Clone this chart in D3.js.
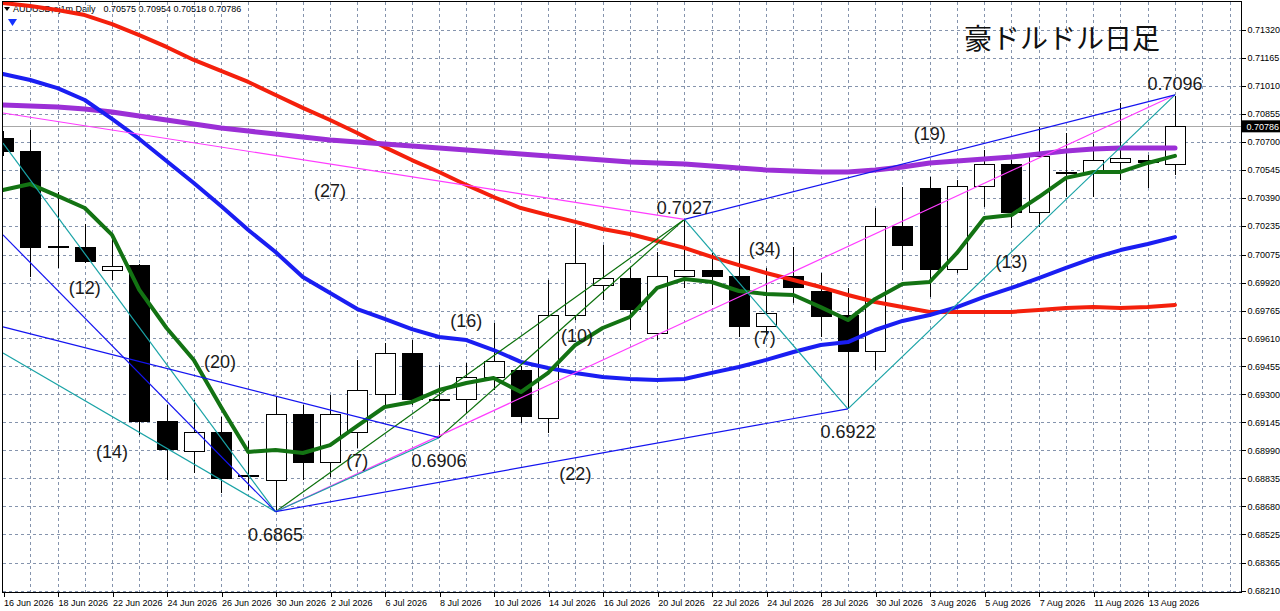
<!DOCTYPE html>
<html><head><meta charset="utf-8">
<script src="https://cdn.jsdelivr.net/npm/d3@7"></script>
<style>body{margin:0;background:#fff;} svg{display:block;}</style>
</head><body>
<svg id="c" width="1280" height="611"></svg>
<script>
// ---------------- DATA ----------------
const dates = ["16 Jun","17 Jun","18 Jun","19 Jun","22 Jun","23 Jun","24 Jun","25 Jun","26 Jun","29 Jun",
  "30 Jun","1 Jul","2 Jul","3 Jul","6 Jul","7 Jul","8 Jul","9 Jul","10 Jul","13 Jul",
  "14 Jul","15 Jul","16 Jul","17 Jul","20 Jul","21 Jul","22 Jul","23 Jul","24 Jul","27 Jul",
  "28 Jul","29 Jul","30 Jul","31 Jul","3 Aug","4 Aug","5 Aug","6 Aug","7 Aug","10 Aug",
  "11 Aug","12 Aug","13 Aug","14 Aug"];
const open  = [0.70716,0.70649,0.70120,0.70117,0.69986,0.70017,0.69152,0.68986,0.69086,0.68853,
  0.68820,0.69186,0.68920,0.69086,0.69297,0.69529,0.69274,0.69274,0.69391,0.69435,
  0.69169,0.69735,0.69906,0.69940,0.69635,0.69951,0.69984,0.69956,0.69674,0.69956,
  0.69873,0.69735,0.69535,0.70233,0.70439,0.69995,0.70455,0.70577,0.70311,0.70527,
  0.70527,0.70588,0.70594,0.70575];
const high  = [0.70760,0.70766,0.70422,0.70245,0.70172,0.70025,0.69241,0.69269,0.69175,0.69042,
  0.69286,0.69240,0.69297,0.69491,0.69585,0.69601,0.69463,0.69474,0.69696,0.69460,
  0.69934,0.70222,0.70128,0.70001,0.70089,0.70270,0.70084,0.70222,0.70001,0.70117,
  0.69973,0.69890,0.70333,0.70450,0.70505,0.70488,0.70655,0.70599,0.70782,0.70749,
  0.70710,0.70915,0.70627,0.70954];
const low   = [0.70620,0.69951,0.70001,0.70028,0.69934,0.69075,0.68825,0.68864,0.68753,0.68770,
  0.68650,0.68825,0.68842,0.69000,0.69240,0.69240,0.69060,0.69197,0.69324,0.69141,
  0.69086,0.69712,0.69823,0.69657,0.69601,0.69890,0.69796,0.69618,0.69629,0.69807,
  0.69618,0.69220,0.69435,0.69990,0.69840,0.69973,0.70339,0.70222,0.70228,0.70394,
  0.70394,0.70488,0.70444,0.70518];
const close = [0.70644,0.70117,0.70115,0.70034,0.70008,0.69152,0.68992,0.69091,0.68836,0.68850,
  0.69186,0.68925,0.69186,0.69319,0.69524,0.69269,0.69272,0.69396,0.69485,0.69175,
  0.69740,0.70023,0.69940,0.69773,0.69951,0.69984,0.69956,0.69674,0.69746,0.69890,
  0.69729,0.69535,0.70233,0.70128,0.69995,0.70455,0.70577,0.70311,0.70616,0.70530,
  0.70594,0.70605,0.70583,0.70786];

const maGreen = [0.70433,0.70466,0.70400,0.70333,0.70184,0.69879,0.69668,0.69491,0.69230,0.68981,
  0.68992,0.68975,0.69019,0.69125,0.69230,0.69258,0.69324,0.69363,0.69391,0.69313,
  0.69419,0.69574,0.69668,0.69729,0.69890,0.69940,0.69923,0.69873,0.69856,0.69851,
  0.69784,0.69712,0.69829,0.69912,0.69923,0.70084,0.70278,0.70294,0.70394,0.70500,
  0.70533,0.70533,0.70583,0.70622];
const maBlue = [0.71076,0.71043,0.70998,0.70932,0.70827,0.70716,0.70594,0.70472,0.70344,0.70211,
  0.70089,0.69951,0.69862,0.69773,0.69718,0.69662,0.69618,0.69601,0.69546,0.69480,
  0.69446,0.69419,0.69396,0.69385,0.69380,0.69385,0.69419,0.69452,0.69491,0.69535,
  0.69574,0.69590,0.69657,0.69707,0.69740,0.69784,0.69840,0.69890,0.69945,0.70001,
  0.70056,0.70100,0.70134,0.70172];
const maRed = [0.71470,0.71453,0.71431,0.71403,0.71353,0.71292,0.71226,0.71154,0.71093,0.71032,
  0.70960,0.70888,0.70821,0.70749,0.70671,0.70599,0.70533,0.70461,0.70394,0.70333,
  0.70294,0.70256,0.70217,0.70189,0.70150,0.70112,0.70062,0.70017,0.69973,0.69934,
  0.69895,0.69851,0.69812,0.69784,0.69757,0.69757,0.69757,0.69757,0.69768,0.69779,
  0.69784,0.69779,0.69784,0.69796];
const maPurple = [0.70904,0.70899,0.70893,0.70882,0.70865,0.70843,0.70821,0.70799,0.70777,0.70760,
  0.70743,0.70727,0.70710,0.70699,0.70688,0.70677,0.70666,0.70655,0.70644,0.70633,
  0.70622,0.70610,0.70599,0.70588,0.70583,0.70577,0.70566,0.70555,0.70544,0.70538,
  0.70533,0.70533,0.70544,0.70561,0.70583,0.70594,0.70605,0.70616,0.70633,0.70649,
  0.70660,0.70666,0.70666,0.70666];

const yTickLabels = ["0.71320","0.71165","0.71010","0.70855","0.70700","0.70545","0.70390","0.70235",
  "0.70075","0.69920","0.69765","0.69610","0.69455","0.69300","0.69145","0.68990","0.68835",
  "0.68680","0.68525","0.68365","0.68210"];

// trend lines: [barFrom, priceFrom, barTo, priceTo]
const blueLines = [[0,0.70184,10,0.6865],[0,0.69674,16,0.6906],[10,0.6865,31,0.6922],[25,0.7027,43,0.7096]];
const tealLines = [[0,0.70693,10,0.6865],[0,0.69529,10,0.6865],[10,0.6865,16,0.6906],[25,0.7027,31,0.6922],[31,0.6922,43,0.7096]];
const magentaLines = [[0,0.70860,25,0.7027],[10,0.6865,43,0.7096]];
const greenLines = [[10,0.6865,25,0.7027],[16,0.6906,25,0.7027]];

// price annotations: [bar, price, text]
const peakLabels = [[43,0.7096,"0.7096"],[25,0.7027,"0.7027"]];
const troughLabels = [[31,0.6922,"0.6922"],[16,0.6906,"0.6906"],[10,0.6865,"0.6865"]];
// bar-count annotations: [text, bar, price]
const countLabels = [["(12)",3,0.69895],["(14)",4,0.68981],["(20)",7.96,0.69485],["(27)",12,0.70433],
  ["(16)",17,0.69707],["(7)",13,0.68936],["(10)",21.06,0.69629],["(34)",27.95,0.70106],
  ["(7)",27.95,0.69618],["(22)",21,0.68864],["(19)",34,0.70749],["(13)",37,0.70034]];

const title = "豪ドルドル日足";
const header = "AUDUSD,oj1m,Daily";
const headerValues = "0.70575 0.70954 0.70518 0.70786";

// ---------------- DRAW ----------------
const L = 2.5, R = 1241.5, T = 1.5, B = 592.5;
const svg = d3.select('#c');
const x = d3.scaleLinear().domain([0, dates.length - 1]).range([3, 1175]);
const y = d3.scaleLinear().domain([0.6821, 0.7132]).range([591, 30]);
const step = x(1) - x(0);

svg.append('defs').append('clipPath').attr('id','clip')
  .append('rect').attr('x', L).attr('y', T).attr('width', R - L).attr('height', B - T);

// header
const hdr = svg.append('g').style('font-family','"Liberation Sans", Arial, sans-serif').style('font-size','9px').attr('fill','#000');
hdr.append('path').attr('d','M4,7 L10,7 L7,11 Z').attr('fill','#000');
const h1 = hdr.append('text').attr('x', 13).attr('y', 12).text(header);
const hw = h1.node().getComputedTextLength();
hdr.append('text').attr('x', 13 + hw + 8).attr('y', 12).text(headerValues);
svg.append('path').attr('d','M8,19 L17,19 L12.5,26 Z').attr('fill','#1432ff');

// grid
const grid = svg.append('g').attr('stroke','#8594ad').attr('stroke-width',1).attr('stroke-dasharray','3,3').attr('shape-rendering','crispEdges');
for (let k = 1; k <= dates.length + 1; k++) {
  const gx = Math.round(x(0) + k * step) + 0.5;
  if (gx < R) grid.append('line').attr('x1', gx).attr('x2', gx).attr('y1', T).attr('y2', B);
}
yTickLabels.forEach(t => {
  const gy = Math.round(y(+t)) + 0.5;
  grid.append('line').attr('x1', L).attr('x2', R).attr('y1', gy).attr('y2', gy);
});

const plot = svg.append('g').attr('clip-path','url(#clip)');

// current price line
const cy = Math.round(y(close[close.length-1])) + 0.5;
plot.append('line').attr('x1', L).attr('x2', R).attr('y1', cy).attr('y2', cy).attr('stroke','#a8a8a8').attr('stroke-width',1);

// candles
const cg = plot.append('g').attr('shape-rendering','crispEdges');
dates.forEach((d, i) => {
  const cx = Math.round(x(i)) + 0.5;
  cg.append('line').attr('x1', cx).attr('x2', cx).attr('y1', y(high[i])).attr('y2', y(low[i])).attr('stroke','#000');
  const top = Math.min(y(open[i]), y(close[i]));
  const h = Math.max(1, Math.abs(y(open[i]) - y(close[i])));
  cg.append('rect').attr('x', cx - 10).attr('y', top).attr('width', 20).attr('height', h)
    .attr('fill', close[i] >= open[i] ? '#fff' : '#000').attr('stroke','#000').attr('stroke-width',1);
});

// moving averages
const maLine = d3.line().x((d, i) => x(i)).y(d => y(d));
[[maRed,'#f4200c',4],[maPurple,'#9b2fd6',5],[maBlue,'#1a1ef2',4],[maGreen,'#137313',4]].forEach(([arr,col,w]) => {
  plot.append('path').attr('d', maLine(arr)).attr('fill','none').attr('stroke', col).attr('stroke-width', w)
    .attr('stroke-linejoin','round').attr('stroke-linecap','round');
});

// trend lines
function drawLines(arr, col) {
  arr.forEach(([b1,p1,b2,p2]) => {
    plot.append('line').attr('x1', x(b1)).attr('y1', y(p1)).attr('x2', x(b2)).attr('y2', y(p2))
      .attr('stroke', col).attr('stroke-width', 1.2);
  });
}
drawLines(greenLines, '#0b700b');
drawLines(magentaLines, '#ff3cff');
drawLines(tealLines, '#1aa3a6');
drawLines(blueLines, '#1414f0');

// annotations
const ann = svg.append('g').style('font-family','"Liberation Sans", Arial, sans-serif').style('font-size','18px').attr('fill','#1a1a1a').attr('text-anchor','middle');
peakLabels.forEach(([b,p,t]) => ann.append('text').attr('x', x(b)).attr('y', y(p) - 5).text(t));
troughLabels.forEach(([b,p,t]) => ann.append('text').attr('x', x(b)).attr('y', y(p) + 29).text(t));
countLabels.forEach(([t,b,p]) => ann.append('text').attr('x', x(b)).attr('y', y(p) + 6.5).text(t));

// title
svg.append('text').attr('x', 964).attr('y', 49).style('font-family','"Noto Sans CJK JP", sans-serif')
  .style('font-size','28px').attr('fill','#111').text(title);

// frame
svg.append('rect').attr('x', L).attr('y', T).attr('width', R - L).attr('height', B - T)
  .attr('fill','none').attr('stroke','#000').attr('stroke-width',1).attr('shape-rendering','crispEdges');

// x axis
const xAxis = d3.axisBottom(x).tickValues(d3.range(0, dates.length, 2)).tickFormat(i => dates[i] + ' 2026').tickSize(4).tickPadding(3);
const gxA = svg.append('g').attr('transform', `translate(0.5,${B})`).call(xAxis);
gxA.select('.domain').remove();
gxA.selectAll('line').attr('stroke','#000').attr('shape-rendering','crispEdges');
gxA.selectAll('text').attr('text-anchor','start').attr('x', 0).style('font-family','"Liberation Sans", Arial, sans-serif').style('font-size','9px').attr('fill','#000');

// y axis
const yAxis = d3.axisRight(y).tickValues(yTickLabels.map(Number)).tickFormat((d, i) => yTickLabels[i]).tickSize(4).tickPadding(2);
const gyA = svg.append('g').attr('transform', `translate(${R},0)`).call(yAxis);
gyA.select('.domain').remove();
gyA.selectAll('line').attr('stroke','#000').attr('shape-rendering','crispEdges');
gyA.selectAll('text').style('font-family','"Liberation Sans", Arial, sans-serif').style('font-size','9px').attr('fill','#000');

// current price tag
const last = close[close.length - 1];
svg.append('rect').attr('x', R + 0.5).attr('y', y(last) - 6).attr('width', 38).attr('height', 12).attr('fill','#000');
svg.append('text').attr('x', R + 5).attr('y', y(last) + 3.5).style('font-family','"Liberation Sans", Arial, sans-serif')
  .style('font-size','9px').attr('fill','#fff').text(last.toFixed(5));
</script>
</body></html>
